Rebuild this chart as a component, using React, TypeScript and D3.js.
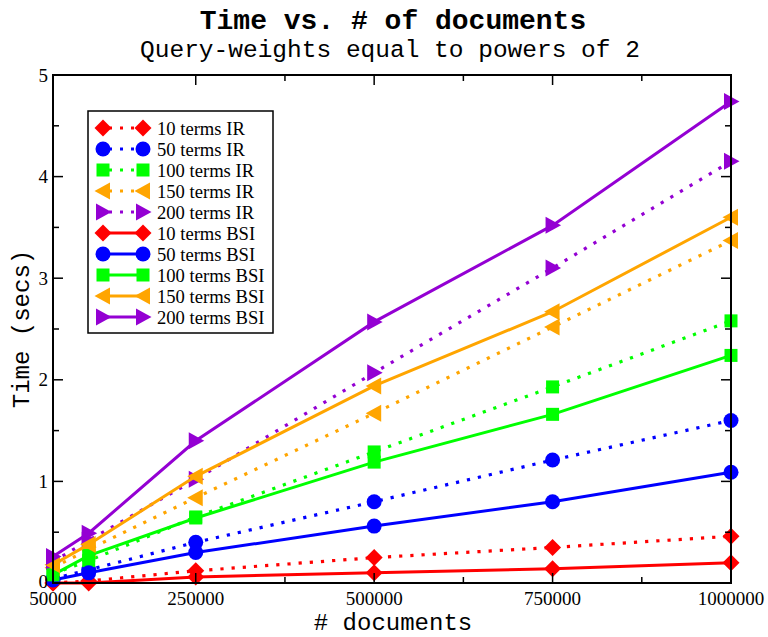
import React from "react";
import * as d3 from "d3";

const docs = [50000, 100000, 250000, 500000, 750000, 1000000];

const ir10 = [0.0, 0.02, 0.12, 0.25, 0.35, 0.46];
const ir50 = [0.04, 0.13, 0.4, 0.8, 1.21, 1.6];
const ir100 = [0.09, 0.22, 0.65, 1.29, 1.93, 2.58];
const ir150 = [0.15, 0.33, 0.84, 1.67, 2.52, 3.37];
const ir200 = [0.21, 0.42, 1.02, 2.07, 3.1, 4.15];
const bsi10 = [0.0, 0.0, 0.06, 0.1, 0.14, 0.2];
const bsi50 = [0.03, 0.1, 0.3, 0.56, 0.8, 1.09];
const bsi100 = [0.08, 0.27, 0.64, 1.19, 1.66, 2.24];
const bsi150 = [0.18, 0.38, 1.05, 1.94, 2.67, 3.6];
const bsi200 = [0.26, 0.49, 1.4, 2.57, 3.52, 4.74];

const seriesNames = [
  "10 terms IR", "50 terms IR", "100 terms IR", "150 terms IR", "200 terms IR",
  "10 terms BSI", "50 terms BSI", "100 terms BSI", "150 terms BSI", "200 terms BSI",
];
const seriesValues = [ir10, ir50, ir100, ir150, ir200, bsi10, bsi50, bsi100, bsi150, bsi200];
const seriesColors = ["#ff0000", "#0000ff", "#00ff00", "#ffa500", "#9400d3"];
const seriesShapes = ["diamond", "circle", "square", "left", "right"];

const xMajorTicks = [50000, 250000, 500000, 750000, 1000000];
const xMinorTicks = [375000, 625000, 875000];
const yMajorTicks = [0, 1, 2, 3, 4, 5];
const yMinorTicks = [0.5, 1.5, 2.5, 3.5, 4.5];

const W = 768, H = 637;
const L = 53, R = 731, T = 75, B = 583;

function Marker({ shape, x, y, color }: { shape: string; x: number; y: number; color: string }) {
  if (shape === "circle") return <circle cx={x} cy={y} r={7.5} fill={color} />;
  if (shape === "square") return <rect x={x - 6.5} y={y - 6.5} width={13} height={13} fill={color} />;
  if (shape === "diamond")
    return <path d={`M${x},${y - 8.5}L${x + 8.5},${y}L${x},${y + 8.5}L${x - 8.5},${y}Z`} fill={color} />;
  if (shape === "left")
    return <path d={`M${x - 8.5},${y}L${x + 7},${y - 8.5}L${x + 7},${y + 8.5}Z`} fill={color} />;
  return <path d={`M${x + 8.5},${y}L${x - 7},${y - 8.5}L${x - 7},${y + 8.5}Z`} fill={color} />;
}

export default function App() {
  const x = d3.scaleLinear().domain([50000, 1000000]).range([L, R]);
  const y = d3.scaleLinear().domain([0, 5]).range([B, T]);
  const line = d3
    .line<[number, number]>()
    .x((d) => x(d[0]))
    .y((d) => y(d[1]));

  const serif = "'Liberation Serif', 'DejaVu Serif', serif";
  const mono = "'Liberation Mono', 'DejaVu Sans Mono', monospace";

  const legX = 88, legY = 111, legW = 185, legH = 222;
  const rowY0 = 128, rowDy = 21;

  return (
    <svg width={W} height={H} style={{ position: "absolute", left: 0, top: 0, background: "#fff" }}>
      <rect x={0} y={0} width={W} height={H} fill="#fff" />
      <text x={393} y={29} textAnchor="middle" fontFamily={mono} fontWeight="bold" fontSize={28}>
        Time vs. # of documents
      </text>
      <text x={390} y={57} textAnchor="middle" fontFamily={mono} fontSize={24.5}>
        Query-weights equal to powers of 2
      </text>

      {/* series */}
      {seriesValues.map((vals, i) => {
        const c = seriesColors[i % 5];
        const dotted = i < 5;
        const pts: [number, number][] = docs.map((d, j) => [d, vals[j]]);
        return (
          <g key={i}>
            <path
              d={line(pts) || ""}
              fill="none"
              stroke={c}
              strokeWidth={dotted ? 3.2 : 3}
              strokeDasharray={dotted ? "3.2,8" : undefined}
            />
            {pts.map((p, j) => (
              <Marker key={j} shape={seriesShapes[i % 5]} x={x(p[0])} y={y(p[1])} color={c} />
            ))}
          </g>
        );
      })}

      {/* frame */}
      <rect x={L} y={T} width={R - L} height={B - T} fill="none" stroke="#000" strokeWidth={2} />

      {/* ticks */}
      {xMajorTicks.map((t) => (
        <g key={"xm" + t}>
          <line x1={x(t)} x2={x(t)} y1={B} y2={B - 10} stroke="#000" strokeWidth={1.5} />
          <line x1={x(t)} x2={x(t)} y1={T} y2={T + 10} stroke="#000" strokeWidth={1.5} />
          <text x={x(t)} y={605} textAnchor="middle" fontFamily={serif} fontSize={19}>
            {t}
          </text>
        </g>
      ))}
      {xMinorTicks.map((t) => (
        <g key={"xn" + t}>
          <line x1={x(t)} x2={x(t)} y1={B} y2={B - 6} stroke="#000" strokeWidth={1.5} />
          <line x1={x(t)} x2={x(t)} y1={T} y2={T + 6} stroke="#000" strokeWidth={1.5} />
        </g>
      ))}
      {yMajorTicks.map((t) => (
        <g key={"ym" + t}>
          <line x1={L} x2={L + 10} y1={y(t)} y2={y(t)} stroke="#000" strokeWidth={1.5} />
          <line x1={R} x2={R - 10} y1={y(t)} y2={y(t)} stroke="#000" strokeWidth={1.5} />
          <text x={48} y={y(t) + (t === 0 ? 5 : 6.5)} textAnchor="end" fontFamily={serif} fontSize={19}>
            {t}
          </text>
        </g>
      ))}
      {yMinorTicks.map((t) => (
        <g key={"yn" + t}>
          <line x1={L} x2={L + 6} y1={y(t)} y2={y(t)} stroke="#000" strokeWidth={1.5} />
          <line x1={R} x2={R - 6} y1={y(t)} y2={y(t)} stroke="#000" strokeWidth={1.5} />
        </g>
      ))}

      <text x={393} y={630} textAnchor="middle" fontFamily={mono} fontSize={24}>
        # documents
      </text>
      <text
        transform={`translate(29,${(T + B) / 2}) rotate(-90)`}
        textAnchor="middle"
        fontFamily={mono}
        fontSize={24}
      >
        Time (secs)
      </text>

      {/* legend */}
      <rect x={legX} y={legY} width={legW} height={legH} fill="#fff" stroke="#000" strokeWidth={1.5} />
      {seriesNames.map((name, i) => {
        const c = seriesColors[i % 5];
        const dotted = i < 5;
        const ry = rowY0 + i * rowDy;
        return (
          <g key={name}>
            <line
              x1={103}
              x2={143}
              y1={ry}
              y2={ry}
              stroke={c}
              strokeWidth={3}
              strokeDasharray={dotted ? "3,8" : undefined}
              strokeDashoffset={dotted ? -6 : 0}
            />
            <Marker shape={seriesShapes[i % 5]} x={103} y={ry} color={c} />
            <Marker shape={seriesShapes[i % 5]} x={143} y={ry} color={c} />
            <text x={157} y={ry + 6.5} fontFamily={serif} fontSize={18.6}>
              {name}
            </text>
          </g>
        );
      })}
    </svg>
  );
}
